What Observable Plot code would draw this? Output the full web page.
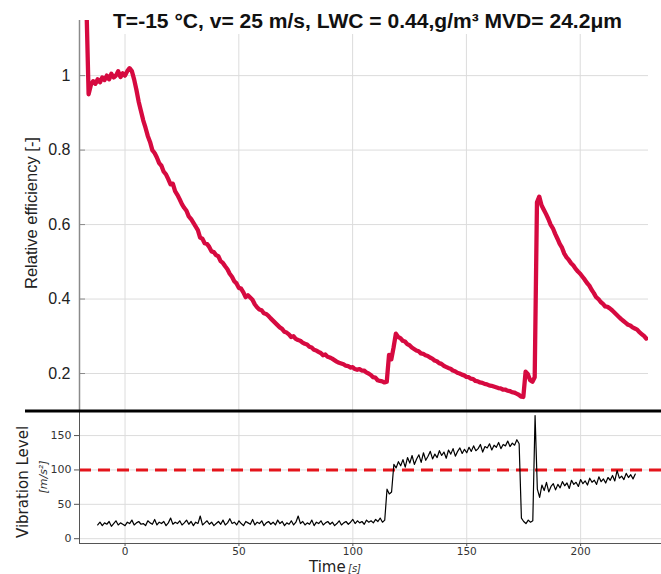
<!DOCTYPE html>
<html>
<head>
<meta charset="utf-8">
<script src="https://cdn.jsdelivr.net/npm/d3@7"></script>
<script src="https://cdn.jsdelivr.net/npm/@observablehq/plot@0.6"></script>
<style>
  html, body { margin: 0; padding: 0; background: #fff; }
  #wrap { position: relative; width: 661px; height: 574px; overflow: hidden; background: #fff; }
  #wrap > svg, #wrap > figure { position: absolute; left: 0; margin: 0; }
</style>
</head>
<body>
<div id="wrap"></div>
<script>
// ---- Data ----
const titleText = "T=-15 °C, v= 25 m/s, LWC = 0.44,g/m³ MVD= 24.2μm";
const effLabel = "Relative efficiency [-]";
const vibLabel = "Vibration Level";
const vibUnit = "[m/s²]";
const timeLabel = "Time";
const timeUnit = "[s]";

const effTicks = [0.2, 0.4, 0.6, 0.8, 1];
const vibTicks = [0, 50, 100, 150];
const timeTicks = [0, 50, 100, 150, 200];
const vibLimit = [100];

// relative efficiency, one sample per second starting at t = -17 s
const effStart = -17;
const effValues = [
  1.2, 0.95, 0.975, 0.985, 0.978, 0.99, 0.982, 0.995, 0.988, 1.0,
  0.99, 1.005, 0.995, 1.0, 1.012, 0.996, 1.006, 1.0, 1.012, 1.02,
  1.012, 0.99, 0.962, 0.93, 0.905, 0.88, 0.86, 0.838, 0.822, 0.80,
  0.792, 0.78, 0.765, 0.758, 0.742, 0.735, 0.722, 0.708, 0.71, 0.69,
  0.68, 0.668, 0.655, 0.645, 0.637, 0.622, 0.615, 0.605, 0.595, 0.585,
  0.565, 0.562, 0.55, 0.548, 0.54, 0.528, 0.526, 0.518, 0.515, 0.502,
  0.497, 0.488, 0.48, 0.468, 0.46, 0.448, 0.442, 0.43, 0.428, 0.418,
  0.405, 0.41, 0.404, 0.398, 0.386, 0.378, 0.372, 0.37, 0.362, 0.36,
  0.355, 0.348, 0.342, 0.336, 0.33, 0.324, 0.32, 0.312, 0.31, 0.305,
  0.298, 0.3, 0.293, 0.29, 0.288, 0.283, 0.28, 0.278, 0.272, 0.27,
  0.264, 0.262, 0.258, 0.255, 0.249, 0.251, 0.245, 0.243, 0.24, 0.236,
  0.232, 0.229, 0.227, 0.225, 0.221, 0.22, 0.216, 0.217, 0.212, 0.21,
  0.212, 0.208, 0.208, 0.203, 0.2, 0.196, 0.19, 0.189, 0.182, 0.18,
  0.179, 0.176, 0.178, 0.25, 0.238, 0.27, 0.307, 0.298, 0.295, 0.288,
  0.286, 0.279, 0.276, 0.27, 0.266, 0.262, 0.26, 0.254, 0.253, 0.249,
  0.247, 0.243, 0.24, 0.235, 0.233, 0.228, 0.226, 0.221, 0.218, 0.215,
  0.213, 0.208, 0.206, 0.202, 0.2, 0.197, 0.195, 0.191, 0.19, 0.186,
  0.185, 0.18, 0.179, 0.176, 0.175, 0.172, 0.171, 0.168, 0.167, 0.165,
  0.163, 0.161, 0.16, 0.157, 0.157, 0.154, 0.153, 0.15, 0.149, 0.146,
  0.143, 0.138, 0.137, 0.205, 0.198, 0.182, 0.178, 0.19, 0.66, 0.675,
  0.652, 0.64, 0.628, 0.615, 0.6, 0.59, 0.575, 0.562, 0.548, 0.538,
  0.522, 0.512, 0.505, 0.496, 0.49, 0.481, 0.474, 0.468, 0.46, 0.452,
  0.443, 0.436, 0.425, 0.416, 0.405, 0.4, 0.392, 0.387, 0.38, 0.379,
  0.375, 0.37, 0.364, 0.358, 0.352, 0.346, 0.341, 0.336, 0.331, 0.329,
  0.324, 0.321, 0.318, 0.311, 0.306, 0.301, 0.294
];

// vibration level [m/s²], one sample per second starting at t = -12 s
const vibStart = -12;
const vibValues = [
  20, 24, 19, 23, 21, 25, 18, 22, 26, 20,
  23, 21, 19, 24, 22, 27, 20, 23, 25, 21,
  22, 19, 26, 23, 21, 28, 20, 24, 22, 25,
  19, 23, 30, 21, 24, 22, 26, 20, 23, 27,
  21, 25, 19, 24, 22, 33, 20, 23, 26, 21,
  24, 19, 22, 25, 21, 27, 20, 23, 29, 22,
  24, 20, 26, 22, 19, 25, 23, 21, 28, 20,
  24, 22, 26, 19, 23, 25, 21, 24, 20, 27,
  22, 25, 19, 23, 21, 26, 20, 24, 33, 22,
  25, 20, 23, 21, 27, 19, 24, 22, 26, 20,
  23, 25, 21, 24, 19, 22, 26, 20, 23, 25,
  21, 24, 28, 22, 26, 23, 25, 21, 27, 24,
  26, 23, 28, 25, 30, 24, 27, 72, 65, 68,
  108, 103, 112, 106, 115, 104, 118, 110, 121, 108,
  116, 122, 111, 125, 114, 120, 127, 116, 123, 118,
  128, 121, 126, 117, 129, 123, 131, 120, 127, 132,
  124, 130, 125, 133, 127, 135, 128, 131, 137, 126,
  134, 132, 138, 129, 136, 133, 140, 131, 137, 135,
  142, 134, 139, 136, 144, 138, 30, 25, 22, 27,
  24, 26, 179, 72, 60, 78, 70, 82, 68, 76,
  80, 71, 79, 74, 83, 77, 81, 73, 85, 79,
  82, 76, 86, 80, 84, 78, 88, 82, 85, 79,
  90, 83, 87, 81, 89, 85, 92, 84, 99, 88,
  91, 86, 95, 89, 93, 87, 94
];

const effData = effValues.map((v, i) => ({t: effStart + i, v}));
const vibData = vibValues.map((v, i) => ({t: vibStart + i, v}));

// ---- Styles ----
const RED_LINE = "#d60a40";
const GRID = "#dcdcdc";

const wrap = document.getElementById("wrap");

// ---- Top panel: relative efficiency ----
const topPlot = Plot.plot({
  width: 661,
  height: 412,
  marginLeft: 79,
  marginRight: 13,
  marginTop: 20,
  marginBottom: 1,
  style: {fontFamily: "Liberation Sans, Arial, sans-serif", fontSize: "16px", color: "#222", background: "transparent", overflow: "visible"},
  x: {domain: [-20, 230], axis: null},
  y: {domain: [0.098, 1.148]},
  marks: [
    Plot.gridX(timeTicks, {stroke: GRID, strokeOpacity: 1}),
    Plot.gridY(effTicks, {stroke: GRID, strokeOpacity: 1}),
    Plot.ruleX([-20], {stroke: "#8a8a8a", strokeWidth: 1.5}),
    Plot.axisY(effTicks, {tickSize: -6, tickPadding: 15, stroke: "#8a8a8a", tickFormat: d => d === 1 ? "1" : String(d), label: null}),
    Plot.line(effData, {x: "t", y: "v", stroke: RED_LINE, strokeWidth: 4.3, clip: true, strokeLinejoin: "round"})
  ]
});
topPlot.style.top = "0px";
wrap.appendChild(topPlot);

// ---- Bottom panel: vibration level ----
const bottomPlot = Plot.plot({
  width: 661,
  height: 163,
  marginLeft: 79,
  marginRight: 0,
  marginTop: 0,
  marginBottom: 31,
  style: {fontFamily: "DejaVu Sans, sans-serif", fontSize: "10.5px", color: "#333", background: "transparent", overflow: "visible"},
  x: {domain: [-20, 235.5]},
  y: {domain: [-7, 185]},
  marks: [
    Plot.gridX(timeTicks, {stroke: GRID, strokeOpacity: 1}),
    Plot.gridY(vibTicks, {stroke: GRID, strokeOpacity: 1}),
    Plot.ruleY(vibLimit, {stroke: "#e4141b", strokeWidth: 3, strokeDasharray: "12,7"}),
    Plot.line(vibData, {x: "t", y: "v", stroke: "#000", strokeWidth: 1.2, clip: true}),
    Plot.ruleX([-20], {stroke: "#555", strokeWidth: 1}),
    Plot.ruleY([-7], {stroke: "#555", strokeWidth: 1}),
    Plot.axisX(timeTicks, {tickSize: 3, tickPadding: 1, stroke: "#555", label: null}),
    Plot.axisY(vibTicks, {tickSize: 5, tickPadding: 3, stroke: "#555", label: null, fontSize: 11})
  ]
});
bottomPlot.style.top = "411px";
wrap.appendChild(bottomPlot);

// ---- Separator and texts ----
const ns = "http://www.w3.org/2000/svg";
const over = document.createElementNS(ns, "svg");
over.setAttribute("width", 661);
over.setAttribute("height", 574);
over.style.top = "0px";
over.style.pointerEvents = "none";
wrap.appendChild(over);

function add(tag, attrs, text) {
  const el = document.createElementNS(ns, tag);
  for (const k in attrs) el.setAttribute(k, attrs[k]);
  if (text != null) el.textContent = text;
  over.appendChild(el);
  return el;
}

add("line", {x1: 25, x2: 661, y1: 411, y2: 411, stroke: "#000", "stroke-width": 3});

// title
add("rect", {x: 105, y: 4, width: 525, height: 30, fill: "#fff"});
add("text", {x: 113, y: 28, "font-family": "Liberation Sans, Arial, sans-serif", "font-weight": "bold", "font-size": 20, fill: "#111", textLength: 509, lengthAdjust: "spacingAndGlyphs"}, titleText);

// y label top
add("text", {x: 0, y: 0, transform: "translate(37,213) rotate(-90)", "text-anchor": "middle", "font-family": "Liberation Sans, Arial, sans-serif", "font-size": 16.5, fill: "#222"}, effLabel);

// y label bottom
add("text", {x: 0, y: 0, transform: "translate(28,482) rotate(-90)", "text-anchor": "middle", "font-family": "DejaVu Sans, sans-serif", "font-size": 15, fill: "#222"}, vibLabel);
add("text", {x: 0, y: 0, transform: "translate(47,477) rotate(-90)", "text-anchor": "middle", "font-family": "DejaVu Sans, sans-serif", "font-style": "italic", "font-size": 11, fill: "#333"}, vibUnit);

// x label
add("text", {x: 309, y: 571.5, "font-family": "DejaVu Sans, sans-serif", "font-size": 15, fill: "#222"}, timeLabel);
add("text", {x: 348, y: 571.5, "font-family": "DejaVu Sans, sans-serif", "font-style": "italic", "font-size": 10, fill: "#333"}, timeUnit);
</script>
</body>
</html>
